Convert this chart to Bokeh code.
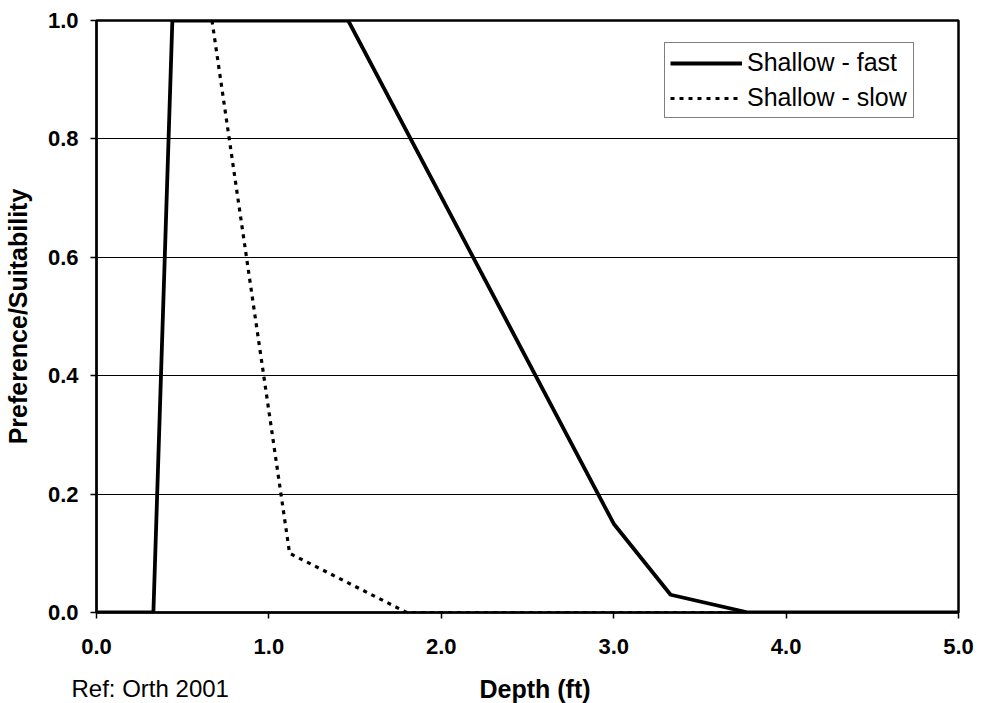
from bokeh.plotting import figure
from bokeh.models import Legend, LegendItem, Label, FixedTicker, Range1d
from bokeh.embed import file_html
from bokeh.resources import INLINE

# Data
fast_x = [0.0, 0.33, 0.44, 1.46, 3.0, 3.33, 3.78, 5.0]
fast_y = [0.0, 0.0, 1.0, 1.0, 0.15, 0.03, 0.0, 0.0]
slow_x = [0.67, 1.12, 1.8, 5.0]
slow_y = [1.0, 0.1, 0.0, 0.0]
x_ticks = [0.0, 1.0, 2.0, 3.0, 4.0, 5.0]
y_ticks = [0.0, 0.2, 0.4, 0.6, 0.8, 1.0]
x_tick_labels = {0.0: "0.0", 1.0: "1.0", 2.0: "2.0", 3.0: "3.0", 4.0: "4.0", 5.0: "5.0"}
y_tick_labels = {0.0: "0.0", 0.2: "0.2", 0.4: "0.4", 0.6: "0.6", 0.8: "0.8", 1.0: "1.0"}
series_names = ["Shallow - fast", "Shallow - slow"]
x_title = "Depth (ft)"
y_title = "Preference/Suitability"
ref_text = "Ref: Orth 2001"

FONT = "Liberation Sans"

p = figure(width=974, height=695,
           x_range=Range1d(0, 5), y_range=Range1d(0, 1),
           output_backend="svg", toolbar_location=None,
           min_border_left=95, min_border_top=20,
           min_border_right=17, min_border_bottom=83)
p.frame_width = 862
p.frame_height = 592

p.outline_line_color = "black"
p.outline_line_width = 2.5
p.background_fill_color = "white"
p.border_fill_color = "white"

# Grid
p.xgrid.grid_line_color = None
p.ygrid.ticker = FixedTicker(ticks=y_ticks)
p.ygrid.grid_line_color = "black"
p.ygrid.grid_line_width = 1.2

# Axes
p.xaxis.ticker = FixedTicker(ticks=x_ticks)
p.yaxis.ticker = FixedTicker(ticks=y_ticks)
p.xaxis.major_label_overrides = x_tick_labels
p.yaxis.major_label_overrides = y_tick_labels
for ax in (p.xaxis[0], p.yaxis[0]):
    ax.axis_line_color = "black"
    ax.axis_line_width = 2
    ax.major_tick_in = 0
    ax.major_tick_out = 6
    ax.major_tick_line_color = "black"
    ax.major_tick_line_width = 1.5
    ax.minor_tick_line_color = None
    ax.major_label_text_font = FONT
    ax.major_label_text_font_style = "bold"
    ax.major_label_text_font_size = "22px"
    ax.major_label_text_color = "black"
    ax.axis_label_text_font = FONT
    ax.axis_label_text_font_style = "bold"
    ax.axis_label_text_font_size = "25px"
    ax.axis_label_text_color = "black"

p.yaxis.axis_label = y_title
p.xaxis.major_label_standoff = 20
p.yaxis.major_label_standoff = 12
p.yaxis.axis_label_standoff = 13

# Series
r_fast = p.line(fast_x, fast_y, line_color="black", line_width=3.8)
r_slow = p.line(slow_x, slow_y, line_color="black", line_width=3.2,
                line_dash="4 5")

legend = Legend(items=[LegendItem(label=series_names[0], renderers=[r_fast]),
                       LegendItem(label=series_names[1], renderers=[r_slow])],
                location=(568, 494))
legend.border_line_color = "black"
legend.border_line_width = 1.5
legend.background_fill_color = "white"
legend.background_fill_alpha = 1.0
legend.label_text_font = FONT
legend.label_text_font_size = "25px"
legend.label_text_color = "black"
legend.glyph_width = 72
legend.glyph_height = 24
legend.label_height = 24
legend.label_width = 161
legend.label_standoff = 5
legend.spacing = 6
legend.padding = 5
legend.margin = 0
p.add_layout(legend, "center")

# Texts below the axis (x title and reference note), placed in the lower panel
depth_label = Label(x=479, y=688, x_units="canvas", y_units="canvas",
                    text=x_title,
                    text_font=FONT, text_font_size="25px",
                    text_font_style="bold", text_color="black",
                    text_baseline="middle", text_align="left")
p.add_layout(depth_label, "below")

ref = Label(x=71, y=688, x_units="canvas", y_units="canvas",
            text=ref_text,
            text_font=FONT, text_font_size="24px", text_color="black",
            text_baseline="middle", text_align="left")
p.add_layout(ref, "below")

open("out.html", "w").write(file_html(p, INLINE))
